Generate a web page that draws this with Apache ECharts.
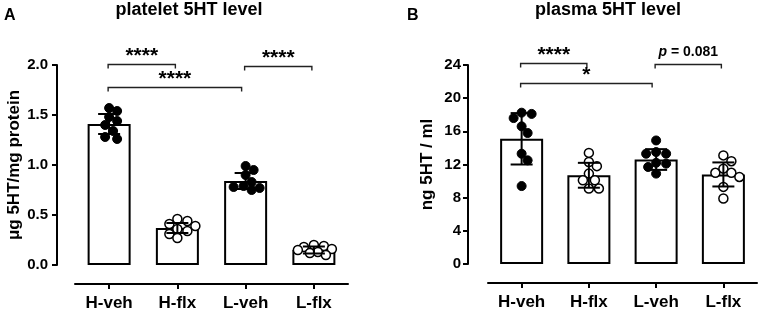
<!DOCTYPE html>
<html><head><meta charset="utf-8">
<script src="https://cdn.jsdelivr.net/npm/echarts@6/dist/echarts.min.js"></script>
<style>html,body{margin:0;padding:0;background:#fff}#c{width:765px;height:312px}</style>
</head><body><div id="c"></div>
<script>
const categories = ['H-veh', 'H-flx', 'L-veh', 'L-flx'];
const filledGroup = [true, false, true, false];

const plateletPoints = [
  [1.57, 1.54, 1.48, 1.44, 1.40, 1.34, 1.28, 1.26],
  [0.46, 0.44, 0.41, 0.39, 0.36, 0.34, 0.31, 0.27],
  [0.99, 0.95, 0.90, 0.83, 0.79, 0.78, 0.77, 0.75],
  [0.20, 0.19, 0.18, 0.16, 0.15, 0.13, 0.12, 0.10]
];
const plateletMean = [1.41, 0.37, 0.84, 0.15];
const plateletSD = [0.10, 0.05, 0.08, 0.035];
const plateletTicks = { min: 0, max: 2, interval: 0.5 };

const plasmaPoints = [
  [18.25, 18.1, 17.6, 16.6, 15.8, 13.3, 12.5, 9.4],
  [13.4, 12.3, 11.8, 10.9, 10.1, 10.1, 9.1, 9.1],
  [14.9, 13.5, 13.3, 13.3, 12.2, 12.1, 11.7, 10.9],
  [13.1, 12.4, 11.5, 11.0, 11.0, 10.5, 9.3, 7.9]
];
const plasmaMean = [15.1, 10.7, 12.6, 10.8];
const plasmaSD = [3.1, 1.5, 1.25, 1.45];
const plasmaTicks = { min: 0, max: 24, interval: 4 };

const plateletSig = [
  { from: 0, to: 1, level: 2.01, label: '****' },
  { from: 0, to: 2, level: 1.78, label: '****' },
  { from: 2, to: 3, level: 1.99, label: '****' }
];
const plasmaSig = [
  { from: 0, to: 1, level: 24.3, label: '****' },
  { from: 0, to: 2, level: 21.8, label: '*' },
  { from: 2, to: 3, level: 24.1, label: 'p = 0.081' }
];

const FONT = '"Liberation Sans", Arial, sans-serif';
const chart = echarts.init(document.getElementById('c'), null, { renderer: 'canvas' });

function catAxis(gi) {
  return {
    type: 'category', gridIndex: gi, data: categories, offset: 19,
    axisLine: { show: true, onZero: false, lineStyle: { color: '#000', width: 2 } },
    axisTick: { show: true, alignWithLabel: true, length: 5, lineStyle: { color: '#000', width: 2 } },
    axisLabel: { color: '#000', fontWeight: 'bold', fontSize: 17, fontFamily: FONT, margin: 11 },
    splitLine: { show: false }
  };
}
function valAxis(gi, t, name, fmt, off, margin) {
  return {
    type: 'value', gridIndex: gi, min: t.min, max: t.max, interval: t.interval, offset: off,
    axisLine: { show: true, onZero: false, lineStyle: { color: '#000', width: 2 } },
    axisTick: { show: true, length: 5, lineStyle: { color: '#000', width: 2 } },
    axisLabel: { color: '#000', fontWeight: 'bold', fontSize: 15, fontFamily: FONT, margin: margin, formatter: fmt },
    splitLine: { show: false },
    name: name, nameLocation: 'middle', nameGap: 32,
    nameTextStyle: { color: '#000', fontWeight: 'bold', fontSize: 17, fontFamily: FONT }
  };
}
function jitterAxis(gi) {
  return { type: 'value', gridIndex: gi, min: -0.5, max: 3.5, show: false,
    axisLine: { show: false, onZero: false }, splitLine: { show: false } };
}

function errRender(params, api) {
  const x = api.value(0), m = api.value(1), sd = api.value(2);
  const top = api.coord([x, m + sd]), bot = api.coord([x, m - sd]);
  const hw = 11, st = { stroke: '#000', lineWidth: 2 };
  return { type: 'group', children: [
    { type: 'line', shape: { x1: top[0], y1: top[1], x2: bot[0], y2: bot[1] }, style: st },
    { type: 'line', shape: { x1: top[0] - hw, y1: top[1], x2: top[0] + hw, y2: top[1] }, style: st },
    { type: 'line', shape: { x1: bot[0] - hw, y1: bot[1], x2: bot[0] + hw, y2: bot[1] }, style: st }
  ]};
}

const base = {
  animation: false,
  backgroundColor: '#fff',
  grid: [
    { left: 75, top: 65, width: 273, height: 200 },
    { left: 488, top: 65, width: 269, height: 199 }
  ],
  xAxis: [catAxis(0), catAxis(1), jitterAxis(0), jitterAxis(1)],
  yAxis: [
    valAxis(0, plateletTicks, 'μg 5HT/mg protein', v => v.toFixed(1), 18, 9),
    valAxis(1, plasmaTicks, 'ng 5HT / ml', v => String(v), 20, 7)
  ],
  series: [
    { type: 'bar', xAxisIndex: 0, yAxisIndex: 0, data: plateletMean, barWidth: 43,
      itemStyle: { color: '#fff', borderColor: '#000', borderWidth: 2 }, z: 1 },
    { type: 'bar', xAxisIndex: 1, yAxisIndex: 1, data: plasmaMean, barWidth: 43,
      itemStyle: { color: '#fff', borderColor: '#000', borderWidth: 2 }, z: 1 },
    { id: 'ptsA', type: 'scatter', xAxisIndex: 2, yAxisIndex: 0, data: [], z: 3 },
    { id: 'ptsB', type: 'scatter', xAxisIndex: 3, yAxisIndex: 1, data: [], z: 3 },
    { type: 'custom', xAxisIndex: 2, yAxisIndex: 0, renderItem: errRender, z: 5,
      data: plateletMean.map((m, i) => [i, m, plateletSD[i]]) },
    { type: 'custom', xAxisIndex: 3, yAxisIndex: 1, renderItem: errRender, z: 5,
      data: plasmaMean.map((m, i) => [i, m, plasmaSD[i]]) }
  ]
};
chart.setOption(base);

function swarm(points, xAxisIndex, yAxisIndex) {
  const unit = chart.convertToPixel({ xAxisIndex }, 1) - chart.convertToPixel({ xAxisIndex }, 0);
  const D = 8.5, step = 2, maxOff = 17;
  const out = [];
  points.forEach((grp, gi) => {
    const placed = [];
    const sorted = grp.slice().sort((a, b) => b - a);
    sorted.forEach(v => {
      const py = chart.convertToPixel({ yAxisIndex }, v);
      let best = 0, bestD = -1;
      for (let k = 0; k <= 2 * maxOff / step; k++) {
        const cand = k === 0 ? 0 : (k % 2 ? 1 : -1) * Math.ceil(k / 2) * step;
        const md = placed.length ? Math.min(...placed.map(p => Math.hypot(p[0] - cand, p[1] - py))) : 99;
        if (md >= D) { best = cand; break; }
        if (md > bestD) { bestD = md; best = cand; }
      }
      placed.push([best, py]);
      out.push({
        value: [gi + best / unit, v],
        itemStyle: filledGroup[gi]
          ? { color: '#000', borderColor: '#000', borderWidth: 1, opacity: 1 }
          : { color: '#fff', borderColor: '#000', borderWidth: 1.5, opacity: 1 }
      });
    });
  });
  return out;
}

function brackets(sig, xAxisIndex, yAxisIndex) {
  const els = [];
  sig.forEach(s => {
    let x1 = chart.convertToPixel({ xAxisIndex }, s.from) - 1;
    let x2 = chart.convertToPixel({ xAxisIndex }, s.to) - 2;
    if (s.to - s.from > 1) x2 -= 2;
    const y = Math.round(chart.convertToPixel({ yAxisIndex }, s.level)) + 0.5;
    els.push({ type: 'polyline', shape: { points: [[x1, y + 4], [x1, y], [x2, y], [x2, y + 4]] },
      style: { stroke: '#222', lineWidth: 1.4, fill: null }, z: 10 });
    const cx = (x1 + x2) / 2;
    if (s.label.indexOf('*') === 0) {
      els.push({ type: 'text', x: cx, y: y - 8, z: 10,
        style: { text: s.label, fontSize: 21, fontWeight: 'bold', fontFamily: FONT, fill: '#000',
          align: 'center', verticalAlign: 'middle' } });
    } else {
      els.push({ type: 'text', x: cx, y: y - 12, z: 10,
        style: { text: '{i|p} = 0.081', fontSize: 14, fontWeight: 'bold', fontFamily: FONT, fill: '#000',
          align: 'center', verticalAlign: 'middle',
          rich: { i: { fontStyle: 'italic', fontWeight: 'bold', fontSize: 14, fontFamily: FONT } } } });
    }
  });
  return els;
}

const graphics = [
  { type: 'text', x: 4, y: 8, style: { text: 'A', fontSize: 16, fontWeight: 'bold', fontFamily: FONT, fill: '#000' } },
  { type: 'text', x: 189, y: 1, style: { text: 'platelet 5HT level', fontSize: 18, fontWeight: 'bold', fontFamily: FONT, fill: '#000', align: 'center' } },
  { type: 'text', x: 407, y: 8, style: { text: 'B', fontSize: 16, fontWeight: 'bold', fontFamily: FONT, fill: '#000' } },
  { type: 'text', x: 608, y: 1, style: { text: 'plasma 5HT level', fontSize: 18, fontWeight: 'bold', fontFamily: FONT, fill: '#000', align: 'center' } }
].concat(brackets(plateletSig, 2, 0), brackets(plasmaSig, 3, 1));

chart.setOption({
  series: [
    { id: 'ptsA', data: swarm(plateletPoints, 2, 0), symbolSize: 9 },
    { id: 'ptsB', data: swarm(plasmaPoints, 3, 1), symbolSize: 9 }
  ],
  graphic: graphics
});
</script></body></html>
